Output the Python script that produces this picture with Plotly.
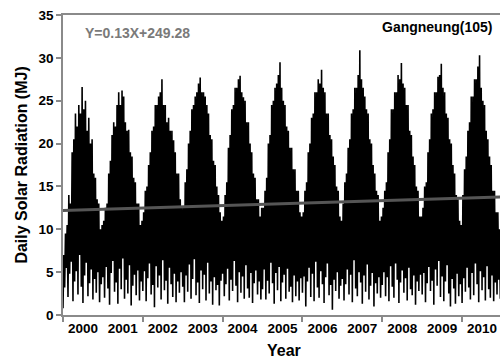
import plotly.graph_objects as go

# ---- data ----
years = list(range(2000, 2011))

# upper (high-radiation days) per half-month, per year
upper = {
    2000: [7, 9.5, 10.5, 14, 13, 19, 20.5, 23.5, 22, 24.5, 23.5, 26.6, 24, 25, 21.5, 23, 20, 20.5, 16.5, 16, 13.5, 13, 10, 10.5],
    2001: [11, 12.5, 13, 16.5, 18, 21, 22.5, 22, 24.5, 26, 24.5, 26.2, 25.5, 22.5, 21.5, 21.6, 19, 18.5, 16, 15.5, 13, 13, 10.5, 11],
    2002: [12, 14.5, 15, 17.5, 19, 21.5, 22, 24.5, 24.5, 25.5, 26, 27.5, 24.5, 24.5, 22.5, 23, 21.5, 21.5, 20.4, 19, 16.5, 16.5, 13.5, 12.5],
    2003: [12.5, 15.5, 17, 20, 21.5, 24, 24.5, 25.5, 26, 27, 27.7, 26, 26, 25.5, 24.5, 23.5, 21, 20.5, 18, 17.5, 15, 14, 12, 11],
    2004: [11.5, 14, 15.5, 19.5, 21, 24, 24.5, 26.5, 26.5, 27.5, 27.9, 26, 25.4, 25, 22.5, 22.5, 20, 19, 16.5, 16, 13.5, 13.5, 11.5, 12.5],
    2005: [12.5, 14.5, 16, 20, 21, 24.5, 25, 26.5, 27, 28, 29.5, 26.5, 25, 24.5, 22, 21.5, 19.5, 19.5, 17, 17, 14.5, 14.5, 12, 11.5],
    2006: [12, 14.5, 15.5, 19, 20, 23, 23.5, 26, 26, 27.5, 27, 28.6, 26.5, 26, 23.5, 23.5, 21, 20.5, 18.5, 17.5, 15, 14.5, 11.5, 11],
    2007: [13, 15.5, 16.5, 19.5, 20.5, 23.5, 24, 26.5, 26.5, 28, 30.9, 27.5, 26.5, 25.5, 24, 23.5, 20.5, 20, 17.5, 16.5, 14.5, 14, 11, 11.5],
    2008: [12.5, 14.5, 15.5, 19, 20.5, 24, 24, 26, 26, 28, 27.5, 29.4, 27, 26.5, 24.5, 24.5, 21.5, 21, 18.5, 17.5, 15, 14.5, 11.5, 11.5],
    2009: [12.5, 15, 15.5, 19, 20.5, 23.5, 24, 26, 26, 27.8, 28, 29.3, 26.5, 26, 23.5, 23, 20.5, 20, 17.5, 16.5, 14, 13.5, 11, 10.5],
    2010: [14, 17, 18.5, 21.5, 22.5, 25.5, 25.5, 27.5, 27.5, 29, 30.3, 26.5, 25, 24.5, 21.5, 20.5, 18.5, 17.5, 14.5, 14.5, 12, 12, 10, 10],
}

# lower (cloudy / rainy days) per half-month, per year
lower = {
    2000: [0.8, 3.2, 5.5, 2.1, 4.8, 6.2, 1.6, 3.9, 5.1, 2.4, 7.0, 3.3, 1.4, 4.6, 6.1, 2.2, 3.7, 5.3, 1.8, 4.2, 2.6, 5.0, 1.5, 3.6],
    2001: [4.4, 2.0, 5.6, 3.1, 1.2, 4.9, 6.3, 2.7, 3.8, 1.3, 5.4, 3.0, 6.6, 1.9, 4.1, 2.5, 5.8, 1.1, 3.4, 4.7, 2.3, 5.2, 1.7, 3.9],
    2002: [2.8, 5.1, 1.6, 4.3, 6.0, 2.4, 3.5, 0.9, 5.7, 3.2, 4.6, 1.8, 6.4, 2.9, 4.0, 1.3, 5.5, 3.6, 2.1, 4.8, 1.5, 3.9, 2.6, 5.0],
    2003: [3.3, 1.5, 4.6, 2.7, 5.9, 1.9, 4.2, 6.5, 2.3, 3.8, 1.4, 5.2, 3.0, 4.7, 1.7, 6.1, 2.5, 3.9, 1.2, 4.4, 2.9, 3.5, 1.1, 4.0],
    2004: [4.8, 2.2, 3.6, 5.4, 1.7, 4.1, 2.8, 6.3, 3.4, 1.5, 5.0, 2.6, 4.5, 1.9, 5.8, 3.1, 2.0, 4.9, 1.4, 3.7, 5.2, 2.4, 3.9, 1.8],
    2005: [3.0, 5.3, 1.8, 4.0, 2.5, 6.1, 3.7, 1.3, 4.9, 2.9, 5.6, 1.6, 3.8, 4.7, 1.9, 5.4, 2.7, 3.3, 1.5, 4.6, 2.2, 3.9, 1.7, 4.3],
    2006: [2.6, 4.5, 1.0, 3.9, 5.5, 2.1, 4.8, 1.6, 6.2, 3.2, 2.0, 5.1, 3.6, 1.4, 4.4, 6.0, 2.3, 3.5, 0.6, 4.1, 2.8, 5.0, 1.9, 3.4],
    2007: [4.2, 1.7, 3.6, 5.3, 2.4, 4.7, 1.5, 6.4, 3.1, 2.2, 5.0, 3.8, 1.3, 4.6, 2.7, 5.9, 1.8, 3.4, 4.9, 1.0, 3.7, 2.5, 4.4, 2.0],
    2008: [3.5, 5.0, 2.2, 4.4, 1.6, 5.7, 3.3, 2.0, 6.0, 4.1, 1.4, 3.8, 5.2, 2.6, 4.3, 1.7, 5.5, 3.0, 2.3, 4.6, 1.2, 3.9, 2.8, 4.7],
    2009: [2.4, 4.9, 1.5, 3.7, 5.6, 2.8, 4.0, 1.2, 5.3, 3.4, 6.3, 2.1, 4.5, 1.6, 3.9, 5.8, 2.5, 1.0, 4.2, 3.1, 1.3, 4.8, 2.2, 3.6],
    2010: [1.4, 4.3, 2.7, 5.5, 3.2, 1.8, 4.9, 2.3, 6.0, 3.6, 1.5, 5.1, 2.9, 4.4, 1.7, 5.7, 3.0, 2.0, 4.6, 1.6, 3.8, 2.4, 4.1, 1.9],
}

trend_x = [2000, 2011]
trend_y = [12.2, 13.78]

year_labels = [str(y) for y in years]
y_ticks = [0, 5, 10, 15, 20, 25, 30, 35]

# ---- build the observation series (half-month slots, low then high) ----
xs, ys = [], []
for y in years:
    for k in range(24):
        xs.append(y + k / 24)
        ys.append(lower[y][k])
        xs.append(y + (k + 0.5) / 24)
        ys.append(upper[y][k])

FONT = "Liberation Sans, Arial, sans-serif"
AXC = "#8a8a8a"

fig = go.Figure()
fig.add_trace(go.Scatter(x=xs, y=ys, mode="lines",
                         line=dict(color="black", width=1.6), hoverinfo="skip"))
fig.add_trace(go.Scatter(x=trend_x, y=trend_y, mode="lines",
                         line=dict(color="#555555", width=3), hoverinfo="skip"))

fig.update_layout(
    width=500, height=358,
    margin=dict(l=63, r=0, t=15, b=43),
    paper_bgcolor="white", plot_bgcolor="white",
    showlegend=False,
    font=dict(family=FONT, color="black"),
    xaxis=dict(
        range=[2000, 2010.95],
        tickvals=[y + 0.5 for y in years], ticktext=[f"<b>{t}</b>" for t in year_labels],
        ticks="", tickfont=dict(size=13.5, color="black"),
        showline=True, linecolor=AXC, linewidth=1.5, mirror=True,
        showgrid=False, zeroline=False,
        minor=dict(tickvals=[2000, 2002, 2004, 2006, 2008, 2010], ticks="outside",
                   ticklen=5, tickcolor=AXC, tickwidth=1.5, showgrid=False),
    ),
    yaxis=dict(
        range=[0, 35], tickvals=y_ticks, ticktext=[f"<b>{v}</b>" for v in y_ticks],
        ticks="outside", ticklen=5, tickcolor=AXC, tickwidth=1.5,
        tickfont=dict(size=13.5, color="black"),
        showline=True, linecolor=AXC, linewidth=1.5,
        showgrid=False, zeroline=False,
    ),
    annotations=[
        dict(text="<b>Daily Solar Radiation (MJ)</b>", xref="paper", yref="paper",
             x=-0.097, y=0.5, textangle=-90, showarrow=False,
             font=dict(size=16, color="black"), xanchor="center", yanchor="middle"),
        dict(text="<b>Year</b>", xref="paper", yref="paper", x=0.505, y=-0.117,
             showarrow=False, font=dict(size=16, color="black"),
             xanchor="center", yanchor="middle"),
        dict(text="<b>Y=0.13X+249.28</b>", xref="paper", yref="paper",
             x=0.046, y=0.94, showarrow=False, font=dict(size=14, color="#7a7a7a"),
             xanchor="left", yanchor="middle"),
        dict(text="<b>Gangneung(105)</b>", xref="paper", yref="paper",
             x=0.987, y=0.96, showarrow=False, font=dict(size=14, color="black"),
             xanchor="right", yanchor="middle"),
    ],
)

fig.write_html("out.html")
